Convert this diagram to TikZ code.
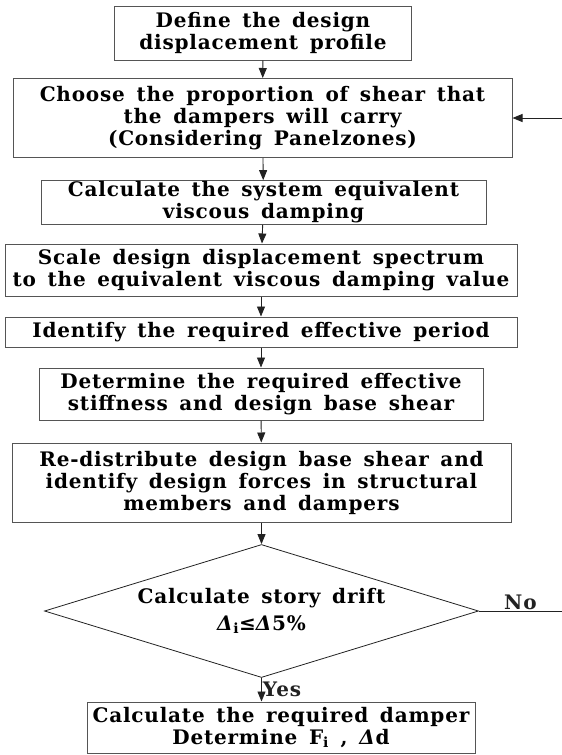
\documentclass[tikz,border=0pt]{standalone}
\usepackage{fontspec}
\setmainfont{DejaVu Serif}[WordSpace=1.5,LetterSpace=4]
\usepackage{tikz}
\usetikzlibrary{arrows.meta,positioning,shapes.geometric}
\definecolor{linec}{HTML}{222222}
\definecolor{framec}{HTML}{555555}
\tikzset{
  ar/.style={-{Triangle[length=10pt,width=8pt]},linec,line width=0.9pt},
  box/.style={draw=framec,line width=1pt,align=center,inner sep=1pt,
    font=\fontsize{20}{22}\selectfont\bfseries},
  dm/.style={diamond,aspect=3.3,draw=linec,line width=0.8pt,align=center,inner sep=0pt,
    font=\fontsize{20}{27}\selectfont\bfseries},
  lbl/.style={font=\fontsize{20}{22}\selectfont\bfseries,inner sep=1pt}
}

\begin{document}
\begin{tikzpicture}[x=1pt,y=-1pt]
\useasboundingbox (0,0) rectangle (562,755);
\node[box,minimum width=297,minimum height=54] (def) at (263,33)
  {Define the design\\displacement profile};
\node[box,minimum width=499,minimum height=79] (prop) at (262.5,118)
  {Choose the proportion of shear that\\the dampers will carry\\(Considering Panelzones)};
\node[box,minimum width=445,minimum height=42] (damp) at (263.5,202.5)
  {Calculate the system equivalent\\viscous damping};
\node[box,minimum width=512,minimum height=52] (scale) at (261,270)
  {Scale design displacement spectrum\\to the equivalent viscous damping value};
\node[box,minimum width=512,minimum height=30] (per) at (261,332)
  {Identify the required effective period};
\node[box,minimum width=444,minimum height=52] (stiff) at (261,394)
  {Determine the required effective\\stiffness and design base shear};
\node[box,minimum width=499,minimum height=79] (redis) at (261.5,482.5)
  {Re-distribute design base shear and\\identify design forces in structural\\members and dampers};
\node[dm,minimum width=434,minimum height=133] (drift) at (261.5,611)
  {Calculate story drift\\\textit{Δ}\textsubscript{i}≤\textit{Δ}5\%};
\node[box,minimum width=388,minimum height=51] (dmp) at (281,727.5)
  {Calculate the required damper\\Determine F\textsubscript{i} , \textit{Δ}d};
\coordinate (noend) at (562,611);
\coordinate (backin) at (562,118);
% flow
\draw[ar] (def) -- (prop);
\draw[ar] (prop) -- (damp);
\draw[ar] (damp) -- (scale);
\draw[ar] (scale) -- (per);
\draw[ar] (per) -- (stiff);
\draw[ar] (stiff) -- (redis);
\draw[ar] (redis) -- (drift);
\draw[ar] (drift.south) -- (drift.south |- dmp.north) node[lbl,midway,right]{Yes};
\draw[linec,line width=0.9pt] (drift.east) -- (noend) node[lbl,midway,above]{No};
\draw[ar] (backin) -- (prop.east);
\end{tikzpicture}
\end{document}
